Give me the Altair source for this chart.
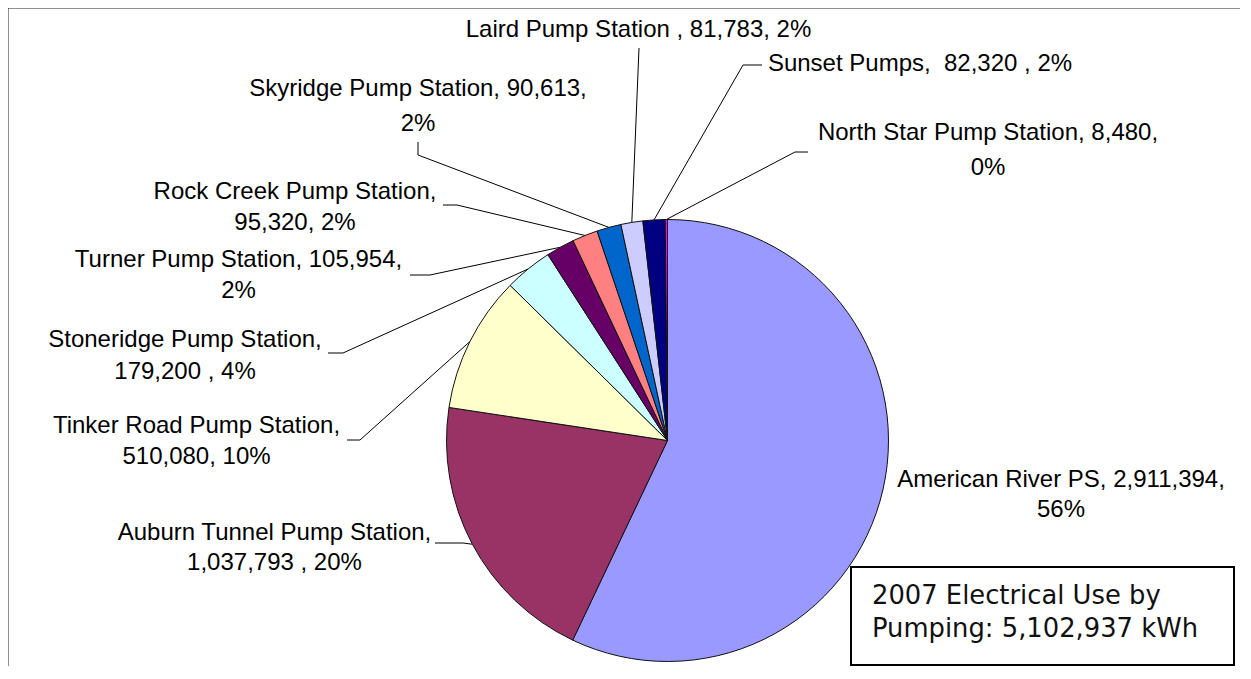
import math
import altair as alt
import pandas as pd

# ---------------- data ----------------
names = [
    "American River PS",
    "Auburn Tunnel Pump Station",
    "Tinker Road Pump Station",
    "Stoneridge Pump Station",
    "Turner Pump Station",
    "Rock Creek Pump Station",
    "Skyridge Pump Station",
    "Laird Pump Station",
    "Sunset Pumps",
    "North Star Pump Station",
]
kwh = [2911394, 1037793, 510080, 179200, 105954, 95320, 90613, 81783, 82320, 8480]
colors = ["#9999FF", "#993366", "#FFFFCC", "#CCFFFF", "#660066",
          "#FF8080", "#0066CC", "#CCCCFF", "#000080", "#FF00FF"]
label_lines = [
    ["American River PS, 2,911,394,", "56%"],
    ["Auburn Tunnel Pump Station,", "1,037,793 , 20%"],
    ["Tinker Road Pump Station,", "510,080, 10%"],
    ["Stoneridge Pump Station,", "179,200 , 4%"],
    ["Turner Pump Station, 105,954,", "2%"],
    ["Rock Creek Pump Station,", "95,320, 2%"],
    ["Skyridge Pump Station, 90,613,", "2%"],
    ["Laird Pump Station , 81,783, 2%"],
    ["Sunset Pumps,\u00a0 82,320 , 2%"],
    ["North Star Pump Station, 8,480,", "0%"],
]
box_lines = ["2007 Electrical Use by", "Pumping: 5,102,937 kWh"]

# ---------------- layout (page pixels) ----------------
PAD_L, PAD_T = 2, 2
M_X, M_Y = 8 + PAD_L, 8 + PAD_T      # page position of chart origin
W, H = 1230, 656
CX, CY, R = 667.5, 440.5, 221          # pie centre and radius (page)

# label centre x, first baseline y, line step
label_pos = {
    "American River PS": (1061, 487, 30),
    "Auburn Tunnel Pump Station": (274.5, 540, 30),
    "Tinker Road Pump Station": (196.5, 433, 31),
    "Stoneridge Pump Station": (185, 347, 32),
    "Turner Pump Station": (238.5, 267, 31),
    "Rock Creek Pump Station": (295, 199, 31),
    "Skyridge Pump Station": (418, 96, 35),
    "Laird Pump Station": (638.5, 37, 30),
    "Sunset Pumps": (920, 71, 30),
    "North Star Pump Station": (988, 140, 35),
}
# leader waypoints from the label side, ending at the slice edge
leader_pts = {
    "Auburn Tunnel Pump Station": [(435, 543), (463, 543)],
    "Tinker Road Pump Station": [(347, 440), (360, 440)],
    "Stoneridge Pump Station": [(328, 353), (343, 353)],
    "Turner Pump Station": [(410, 275), (430, 275)],
    "Rock Creek Pump Station": [(443, 205), (457, 205)],
    "Skyridge Pump Station": [(418, 142), (418, 155)],
    "Laird Pump Station": [(639, 48)],
    "Sunset Pumps": [(762, 65), (743, 65)],
    "North Star Pump Station": [(808, 152), (795, 152)],
}
BOX = (851, 567, 1234, 665)
BOX_TEXT = (872, 604, 33)

# ---------------- derived tables ----------------
total = sum(kwh)
pie_df = pd.DataFrame({"name": names, "kwh": kwh, "idx": list(range(len(names)))})

cum = 0.0
edge = {}
for n, v in zip(names, kwh):
    mid = (cum + v / 2) / total * 2 * math.pi
    edge[n] = (CX + R * math.sin(mid), CY - R * math.cos(mid))
    cum += v

line_rows = []
for n, pts in leader_pts.items():
    seq = pts + [edge[n]]
    for k, (px, py) in enumerate(seq):
        line_rows.append({"name": n, "k": k, "px": px - M_X, "py": py - M_Y})
lines_df = pd.DataFrame(line_rows)

text_rows = []
for n, lines in zip(names, label_lines):
    cx, y1, step = label_pos[n]
    for i, t in enumerate(lines):
        text_rows.append({"t": t, "px": cx - M_X, "py": y1 + i * step - M_Y})
text_df = pd.DataFrame(text_rows)

bx, by, step = BOX_TEXT
box_text_df = pd.DataFrame({
    "t": box_lines,
    "px": [bx - M_X] * len(box_lines),
    "py": [by + i * step - M_Y for i in range(len(box_lines))],
})

one = pd.DataFrame({"a": [0]})

# ---------------- chart ----------------
frame_top = alt.Chart(one).mark_rule(color="#222222", strokeWidth=2).encode(
    x=alt.value(-3), x2=alt.value(W + 10), y=alt.value(-2.5)
)
frame_left = alt.Chart(one).mark_rule(color="#222222", strokeWidth=2).encode(
    x=alt.value(-2.5), y=alt.value(-3), y2=alt.value(H + 10)
)

leaders = alt.Chart(lines_df).mark_line(color="black", strokeWidth=1).encode(
    x=alt.X("px:Q", scale=None, axis=None),
    y=alt.Y("py:Q", scale=None, axis=None),
    detail="name:N",
    order="k:Q",
)

pie = alt.Chart(pie_df).mark_arc(outerRadius=R, stroke="#111111", strokeWidth=1).encode(
    theta=alt.Theta("kwh:Q", stack=True),
    order=alt.Order("idx:Q"),
    color=alt.Color("name:N", scale=alt.Scale(domain=names, range=colors), legend=None),
    x=alt.value(CX - M_X),
    y=alt.value(CY - M_Y),
)

labels = alt.Chart(text_df).mark_text(
    font="Arial, Liberation Sans", fontSize=24, align="center", baseline="alphabetic", color="black"
).encode(
    x=alt.X("px:Q", scale=None, axis=None),
    y=alt.Y("py:Q", scale=None, axis=None),
    text="t:N",
)

box = alt.Chart(one).mark_rect(fill="white", stroke="black", strokeWidth=2).encode(
    x=alt.value(BOX[0] - M_X), x2=alt.value(BOX[2] - M_X),
    y=alt.value(BOX[1] - M_Y), y2=alt.value(BOX[3] - M_Y),
)

box_text = alt.Chart(box_text_df).mark_text(
    font="DejaVu Sans", fontSize=25.8, align="left", baseline="alphabetic", color="#111111"
).encode(
    x=alt.X("px:Q", scale=None, axis=None),
    y=alt.Y("py:Q", scale=None, axis=None),
    text="t:N",
)

chart = alt.layer(frame_top, frame_left, leaders, pie, labels, box, box_text).properties(
    width=W, height=H,
    autosize=alt.AutoSizeParams(type="none"),
    padding={"left": PAD_L, "top": PAD_T, "right": 0, "bottom": 0},
    background="white",
).configure_view(stroke=None)

chart.save("out.html", embed_options={"renderer": "svg", "actions": False})
